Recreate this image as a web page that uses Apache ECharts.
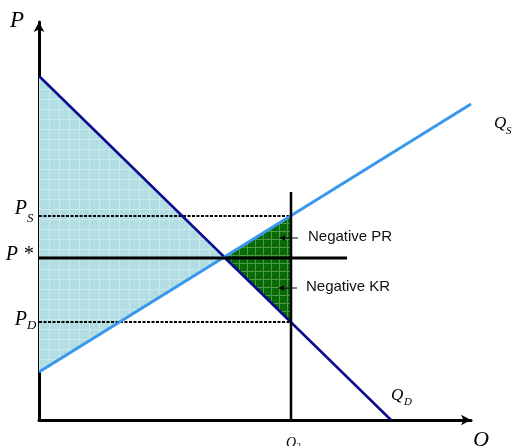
<!DOCTYPE html>
<html><head><meta charset="utf-8">
<script src="https://cdn.jsdelivr.net/npm/echarts@6/dist/echarts.min.js"></script>
<style>html,body{margin:0;padding:0;background:#fff}#chart{width:518px;height:446px}</style>
</head><body><div id="chart"></div>
<script>
// Demand and supply curves, as (quantity, price) end points
const demandQ = [0, 88];
const demandP = [86, 0];
const supplyQ = [0, 108];
const supplyP = [12, 79];

// Equilibrium, the quantity Q2 and the two prices it implies
const qStar = 46;
const pStar = 40.5;
const q2 = 63;
const pS = 51;
const pD = 24.5;
const q2LineTop = 57;      // upper end of the vertical line at Q2
const pStarLineEnd = 77;   // right end of the horizontal line at P*

// Shaded areas
const surplusArea = [[0, 86], [qStar, pStar], [0, 12]];
const lossArea = [[qStar, pStar], [q2, pS], [q2, pD]];

// Price labels left of the vertical axis: [price, main text, subscript]
const priceLabels = [[pS, 'P', 'S'], [pStar, 'P *', ''], [pD, 'P', 'D']];

const SERIF = '"Liberation Serif", "DejaVu Serif", serif';
const SANS = '"Liberation Sans", Arial, sans-serif';

function gridPattern(base, line, size) {
  const c = document.createElement('canvas');
  c.width = size; c.height = size;
  const g = c.getContext('2d');
  g.fillStyle = base; g.fillRect(0, 0, size, size);
  g.fillStyle = line;
  g.fillRect(size - 1, 0, 1, size);
  g.fillRect(0, size - 1, size, 1);
  return { image: c, repeat: 'repeat' };
}
const bluePattern = gridPattern('#b1dde3', '#c9e9ed', 10);
const greenPattern = gridPattern('#086b08', '#4f9a45', 8);

function polygonSeries(points, fill, z) {
  return {
    type: 'custom', coordinateSystem: 'cartesian2d', z: z, silent: true, clip: false,
    data: [0],
    renderItem: function (params, api) {
      return {
        type: 'polygon',
        shape: { points: points.map(p => api.coord(p)) },
        style: { fill: fill }
      };
    }
  };
}

function pairs(xs, ys) { return xs.map((x, i) => [x, ys[i]]); }

function lineSeries(data, color, width, type, z) {
  return {
    type: 'line', data: data, symbol: 'none', silent: true, z: z,
    lineStyle: { color: color, width: width, type: type || 'solid' }
  };
}

// pixel nudges of each price label: [main dx, main dy, sub dy]
const priceLabelNudge = [[-12, -7, 2.5], [-6, -3, 0], [-12, -2, 3.5]];

const chart = echarts.init(document.getElementById('chart'));
chart.setOption({
  animation: false,
  grid: { left: 39, top: 22, width: 432, height: 398, containLabel: false },
  xAxis: {
    type: 'value', min: 0, max: 108,
    splitLine: { show: false }, axisTick: { show: false }, axisLabel: { show: false },
    axisLine: { show: true, lineStyle: { color: '#000', width: 3 }, symbol: ['none', 'arrow'], symbolSize: [8, 10] }
  },
  yAxis: {
    type: 'value', min: 0, max: 99.5,
    splitLine: { show: false }, axisTick: { show: false }, axisLabel: { show: false },
    axisLine: { show: true, lineStyle: { color: '#000', width: 3 }, symbol: ['none', 'arrow'], symbolSize: [8, 10] }
  },
  series: [
    polygonSeries(surplusArea, bluePattern, 1),
    polygonSeries(lossArea, greenPattern, 1),
    lineSeries([[0, pS], [q2, pS]], '#000', 2, [3, 1.5], 3),
    lineSeries([[0, pD], [q2, pD]], '#000', 2, [3, 1.5], 3),
    lineSeries(pairs(demandQ, demandP), '#0a0a8c', 2.5, 'solid', 4),
    lineSeries(pairs(supplyQ, supplyP), '#3a97ee', 3, 'solid', 4),
    lineSeries([[0, pStar], [pStarLineEnd, pStar]], '#000', 3, 'solid', 5),
    lineSeries([[q2, 0], [q2, q2LineTop]], '#000', 2.5, 'solid', 5),
    {
      // price labels on the P axis
      type: 'custom', coordinateSystem: 'cartesian2d', z: 6, silent: true, clip: false,
      data: priceLabels.map(r => [0, r[0]]),
      renderItem: function (params, api) {
        const row = priceLabels[params.dataIndex];
        const nudge = priceLabelNudge[params.dataIndex];
        const pt = api.coord([0, row[0]]);
        const children = [{
          type: 'text', x: pt[0] + nudge[0], y: pt[1] + nudge[1],
          style: { text: row[1], font: 'italic 20px ' + SERIF, fill: '#000', align: 'right', verticalAlign: 'middle' }
        }];
        if (row[2]) {
          children.push({
            type: 'text', x: pt[0] + nudge[0], y: pt[1] + nudge[2],
            style: { text: row[2], font: 'italic 13px ' + SERIF, fill: '#000', align: 'left', verticalAlign: 'middle' }
          });
        }
        return { type: 'group', children: children };
      }
    },
    {
      // Q2 label below the quantity axis
      type: 'custom', coordinateSystem: 'cartesian2d', z: 6, silent: true, clip: false,
      data: [[q2, 0]],
      renderItem: function (params, api) {
        const pt = api.coord([q2, 0]);
        return { type: 'group', children: [
          { type: 'text', x: pt[0] - 5, y: pt[1] + 30,
            style: { text: 'Q', font: 'italic 14px ' + SERIF, fill: '#000', align: 'left', verticalAlign: 'bottom' } },
          { type: 'text', x: pt[0] + 5, y: pt[1] + 31,
            style: { text: '2', font: 'italic 9px ' + SERIF, fill: '#000', align: 'left', verticalAlign: 'bottom' } }
        ] };
      }
    }
  ],
  graphic: {
    elements: [
      { type: 'text', z: 100, left: 10, top: 9, style: { text: 'P', font: 'italic 23px ' + SERIF, fill: '#000' } },
      { type: 'text', z: 100, left: 473, top: 429, style: { text: 'Q', font: 'italic 22px ' + SERIF, fill: '#000' } },
      { type: 'text', z: 100, left: 494, top: 115, style: { text: 'Q', font: 'italic 17px ' + SERIF, fill: '#000' } },
      { type: 'text', z: 100, left: 506, top: 126, style: { text: 'S', font: 'italic 11px ' + SERIF, fill: '#000' } },
      { type: 'text', z: 100, left: 391, top: 387, style: { text: 'Q', font: 'italic 17px ' + SERIF, fill: '#000' } },
      { type: 'text', z: 100, left: 404, top: 397, style: { text: 'D', font: 'italic 11px ' + SERIF, fill: '#000' } },
      { type: 'text', z: 100, left: 308, top: 229, style: { text: 'Negative PR', font: '15px ' + SANS, fill: '#111' } },
      { type: 'text', z: 100, left: 306, top: 279, style: { text: 'Negative KR', font: '15px ' + SANS, fill: '#111' } },
      { type: 'line', z: 100, shape: { x1: 284, y1: 238, x2: 298, y2: 238 }, style: { stroke: '#000', lineWidth: 1 } },
      { type: 'polygon', z: 100, shape: { points: [[279, 238], [285, 235.5], [285, 240.5]] }, style: { fill: '#000' } },
      { type: 'line', z: 100, shape: { x1: 283, y1: 288, x2: 297, y2: 288 }, style: { stroke: '#000', lineWidth: 1 } },
      { type: 'polygon', z: 100, shape: { points: [[278, 288], [284, 285.5], [284, 290.5]] }, style: { fill: '#000' } }
    ]
  }
});
</script>
</body></html>
